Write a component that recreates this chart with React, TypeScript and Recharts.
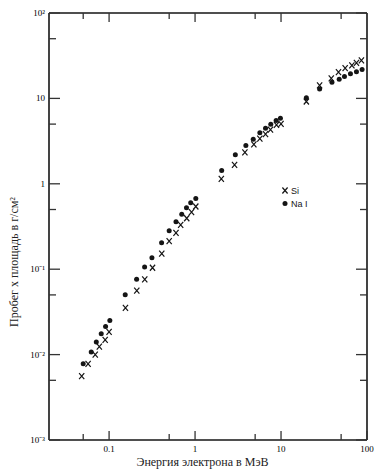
import { ScatterChart, Scatter, XAxis, YAxis } from "recharts";

// Si (crosses): electron energy, MeV / range x density, g/cm2
const siEnergy = [
  0.048, 0.057, 0.069, 0.077, 0.09, 0.1, 0.155, 0.21, 0.26, 0.32, 0.41, 0.5, 0.6, 0.68, 0.8, 0.91,
  1.02, 2.02, 2.88, 3.8, 4.83, 5.67, 6.6, 7.54, 8.85, 10.0, 19.7, 28.1, 38.4, 46.6, 55.7, 66.7,
  75.4, 86.1,
];
const siRange = [
  0.0056, 0.0078, 0.01, 0.0124, 0.0149, 0.0185, 0.0353, 0.056, 0.076, 0.104, 0.152, 0.213, 0.267,
  0.331, 0.395, 0.465, 0.542, 1.14, 1.67, 2.34, 2.89, 3.39, 3.81, 4.32, 4.91, 5.04, 9.2, 14.2, 17.2,
  20.3, 22.6, 24.3, 26.1, 27.8,
];

// NaI (dots)
const naiEnergy = [
  0.05, 0.062, 0.071, 0.081, 0.091, 0.102, 0.154, 0.209, 0.259, 0.315, 0.408, 0.5, 0.6, 0.7, 0.795,
  0.89, 1.02, 2.04, 2.94, 3.9, 4.75, 5.67, 6.6, 7.6, 8.77, 9.84, 19.7, 28.1, 39.1, 47.5, 54.7, 64.2,
  75.4, 87.7,
];
const naiRange = [
  0.0078, 0.0107, 0.014, 0.0175, 0.0213, 0.0251, 0.0501, 0.0764, 0.106, 0.136, 0.204, 0.282, 0.359,
  0.441, 0.524, 0.599, 0.673, 1.43, 2.19, 2.81, 3.33, 3.95, 4.48, 4.99, 5.51, 5.86, 10.2, 12.9, 15.5,
  16.8, 18.0, 19.4, 20.5, 21.8,
];

const xDomain = [0.02, 100];
const yDomain = [0.001, 100];
const xTicksBottom = [0.05, 0.1, 0.5, 1, 5, 10, 50, 100];
const xTicksTop = [0.05, 0.1, 0.5, 1, 5, 10, 50];
const yTicks = [0.001, 0.005, 0.01, 0.05, 0.1, 0.5, 1, 5, 10, 50, 100];
const yTickLabels: Record<number, string> = {
  [-3]: "10⁻³",
  [-2]: "10⁻²",
  [-1]: "10⁻¹",
  0: "1",
  1: "10",
  2: "10²",
};

const xTitle = "Энергия электрона в МэВ";
const yTitle = "Пробег х площадь в г/см²";
const legendItems = ["Si", "Na I"];

const INK = "#151515";
const TICK = "#333";
const TICK_FONT = "'Liberation Sans', Arial, sans-serif";
const TITLE_FONT = "'Liberation Serif', 'Times New Roman', serif";
// recharts default tickSize (6) + tickMargin (2): gap between axis line and the tick's x/y
const OFF = 8;
const PLOT_H = 474 - 34 - 13;

const siData = siEnergy.map((e, i) => ({ e, r: siRange[i] }));
const naiData = naiEnergy.map((e, i) => ({ e, r: naiRange[i] }));

const isDecade = (v: number) => Math.abs(Math.log10(v) - Math.round(Math.log10(v))) < 1e-6;

// bottom ticks also draw the matching inward tick on the top frame
function BottomTick({ x, y, payload }: any) {
  const v = payload.value;
  const major = isDecade(v);
  const ay = y - OFF;
  const len = major ? 9 : 6;
  const top = ay - PLOT_H;
  return (
    <g>
      <path d={`M${x},${ay}V${ay - len}`} stroke={TICK} strokeWidth={1.3} fill="none" />
      {xTicksTop.includes(v) && <path d={`M${x},${top}V${top + len}`} stroke={TICK} strokeWidth={1.3} fill="none" />}
      {major && (
        <text x={x} y={ay + 12} textAnchor="middle" fontSize={9}>
          {String(v)}
        </text>
      )}
    </g>
  );
}

function TopTick() {
  return <g />;
}

function LeftTick({ x, y, payload }: any) {
  const v = payload.value;
  const major = isDecade(v);
  const ax = x + OFF;
  return (
    <g>
      <path d={`M${ax},${y}H${ax + (major ? 11 : 7)}`} stroke={TICK} strokeWidth={1.3} fill="none" />
      {major && (
        <text x={ax - 4} y={y + 3} textAnchor="end" fontSize={9}>
          {yTickLabels[Math.round(Math.log10(v))]}
        </text>
      )}
    </g>
  );
}

function RightTick({ x, y, payload }: any) {
  const major = isDecade(payload.value);
  const ax = x - OFF;
  return <path d={`M${ax},${y}H${ax - (major ? 11 : 7)}`} stroke={TICK} strokeWidth={1.3} fill="none" />;
}

function Cross({ cx, cy }: any) {
  return (
    <path
      d={`M${cx - 2.6},${cy - 3}L${cx + 2.6},${cy + 3}M${cx - 2.6},${cy + 3}L${cx + 2.6},${cy - 3}`}
      stroke={INK}
      strokeWidth={1.2}
      fill="none"
    />
  );
}

function Dot({ cx, cy }: any) {
  return <circle cx={cx} cy={cy} r={2.5} fill={INK} />;
}

const titleStyle: React.CSSProperties = {
  position: "absolute",
  whiteSpace: "nowrap",
  fontFamily: TITLE_FONT,
  fontSize: 12,
  lineHeight: "14px",
  color: "#222",
};

export default function App() {
  const axisLine = { stroke: INK, strokeWidth: 1.6 };
  return (
    <div style={{ position: "absolute", left: 0, top: 0, width: 385, height: 474, background: "#fff" }}>
      <ScatterChart width={385} height={474} margin={{ top: 0, right: 0, bottom: 0, left: 0 }}>
        <XAxis dataKey="e" type="number" scale="log" domain={xDomain} allowDataOverflow ticks={xTicksBottom} interval={0} height={34} tickLine={false} axisLine={axisLine} tick={BottomTick} />
        <XAxis xAxisId="top" orientation="top" type="number" scale="log" domain={xDomain} allowDataOverflow ticks={xTicksTop} interval={0} height={13} tickLine={false} axisLine={axisLine} tick={TopTick} />
        <YAxis dataKey="r" type="number" scale="log" domain={yDomain} allowDataOverflow ticks={yTicks} interval={0} width={49} tickLine={false} axisLine={axisLine} tick={LeftTick} />
        <YAxis yAxisId="right" orientation="right" type="number" scale="log" domain={yDomain} allowDataOverflow ticks={yTicks} interval={0} width={18} tickLine={false} axisLine={axisLine} tick={RightTick} />
        <Scatter name={legendItems[0]} data={siData} shape={Cross} isAnimationActive={false} />
        <Scatter name={legendItems[1]} data={naiData} shape={Dot} isAnimationActive={false} />
      </ScatterChart>

      <div style={{ ...titleStyle, left: 202.5, top: 455, transform: "translateX(-50%)" }}>{xTitle}</div>
      <div style={{ ...titleStyle, left: 14, top: 261.5, transform: "translate(-50%, -50%) rotate(-90deg)" }}>
        {yTitle}
      </div>

      <div style={{ position: "absolute", left: 280, top: 184, fontFamily: TICK_FONT, fontSize: 9, color: INK }}>
        {legendItems.map((name, i) => (
          <div key={name} style={{ display: "flex", alignItems: "center", height: 13 }}>
            <svg width={10} height={13} style={{ display: "block" }}>
              {i === 0 ? <Cross cx={5} cy={6.5} /> : <Dot cx={5} cy={6.5} />}
            </svg>
            <span style={{ marginLeft: 1 }}>{name}</span>
          </div>
        ))}
      </div>
    </div>
  );
}
